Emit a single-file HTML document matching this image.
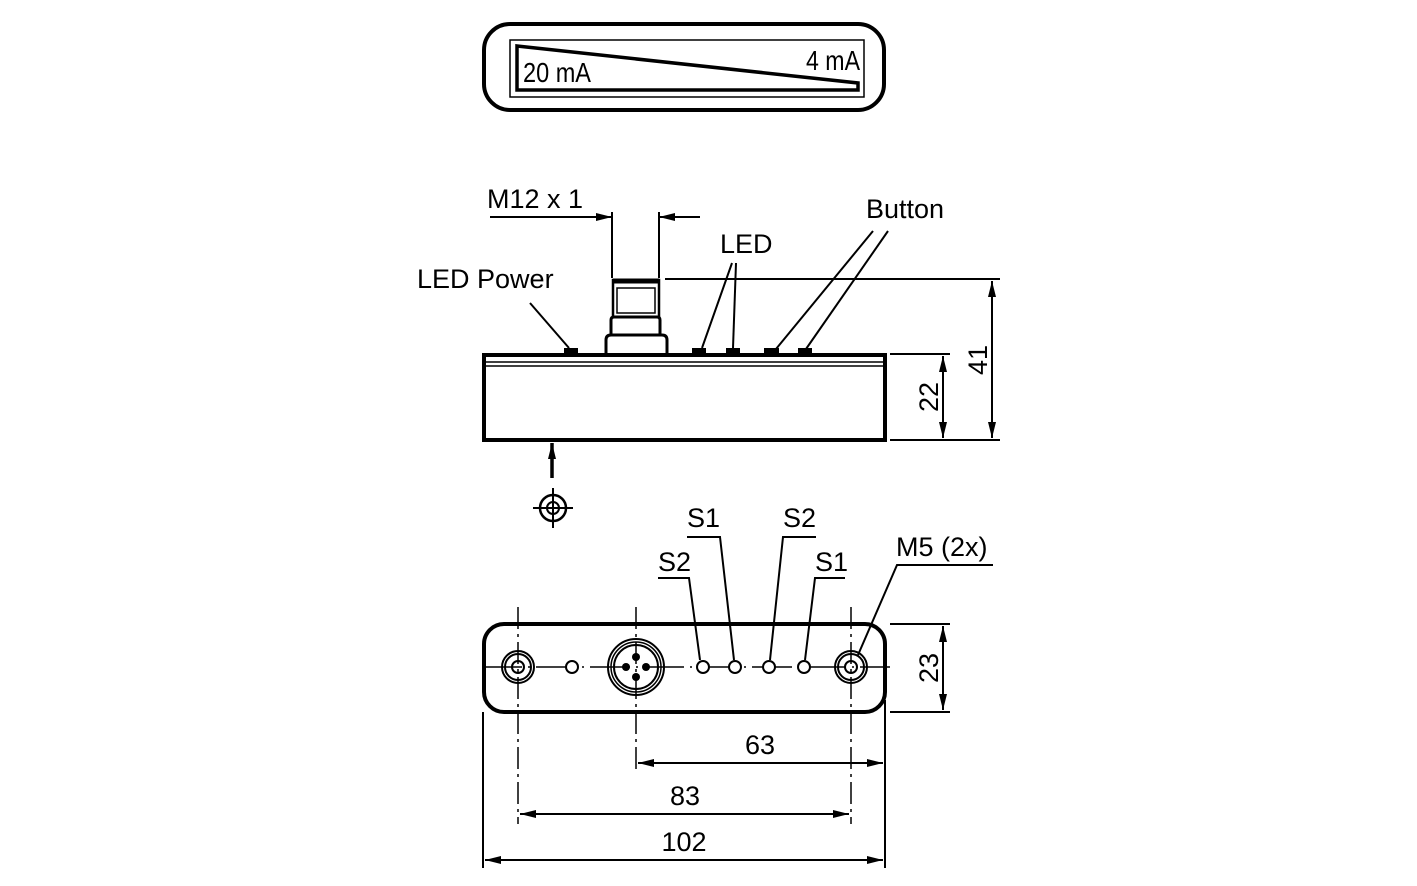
<!DOCTYPE html>
<html><head><meta charset="utf-8"><style>
html,body{margin:0;padding:0;background:#fff}
svg{display:block}
text{font-family:"Liberation Sans",sans-serif;fill:#000}
</style></head><body>
<svg width="1417" height="886" viewBox="0 0 1417 886" xmlns="http://www.w3.org/2000/svg">
<defs>
<marker id="b" viewBox="0 0 16 8" refX="16" refY="4" markerWidth="16" markerHeight="8" orient="auto-start-reverse" markerUnits="userSpaceOnUse"><path d="M0,0L16,4L0,8z"/></marker>
</defs>
<g fill="none" stroke="#000">
<rect x="484" y="24" width="400" height="86" rx="26" stroke-width="4"/>
<rect x="510" y="40" width="354" height="57" stroke-width="1.5"/>
<path d="M517,46 L858,83 L858,90 L517,90 Z" stroke-width="3.5"/>

<rect x="484" y="355" width="401" height="85" stroke-width="4"/>
<line x1="486" y1="362" x2="883" y2="362" stroke-width="1.5"/>
<line x1="486" y1="366" x2="883" y2="366" stroke-width="1.5"/>
<path d="M606,354 L606,340 Q606,335 611,335 L662,335 Q667,335 667,340 L667,354" stroke-width="3"/>
<path d="M611,335 L611,320 Q611,317 614,317 L657,317 Q660,317 660,320 L660,335" stroke-width="3"/>
<rect x="613" y="280" width="46" height="37" stroke-width="2.5"/>
<line x1="613" y1="281" x2="659" y2="281" stroke-width="5"/>
<rect x="617" y="288" width="38" height="25" stroke-width="1.5"/>
<g fill="#000" stroke="none">
<rect x="564" y="348" width="14" height="6"/><rect x="692" y="348" width="14" height="6"/><rect x="726" y="348" width="14" height="6"/><rect x="764" y="348" width="15" height="6"/><rect x="798" y="348" width="14" height="6"/>
</g>
<g stroke-width="2">
<line x1="612" y1="212" x2="612" y2="278"/><line x1="659" y1="212" x2="659" y2="278"/>
<line x1="490" y1="217" x2="612" y2="217" marker-end="url(#b)"/>
<line x1="700" y1="217" x2="659" y2="217" marker-end="url(#b)"/>
<line x1="665" y1="279" x2="1000" y2="279"/>
<line x1="890" y1="440" x2="1000" y2="440"/>
<line x1="890" y1="354" x2="950" y2="354"/>
<line x1="992" y1="281" x2="992" y2="438" marker-start="url(#b)" marker-end="url(#b)"/>
<line x1="943" y1="356" x2="943" y2="438" marker-start="url(#b)" marker-end="url(#b)"/>
<line x1="530" y1="303" x2="569" y2="348"/>
<line x1="732" y1="263" x2="702" y2="348"/>
<line x1="736" y1="263" x2="733" y2="348"/>
<line x1="873" y1="231" x2="776" y2="349"/>
<line x1="888" y1="231" x2="806" y2="349"/>
</g>
<line x1="552" y1="478" x2="552" y2="443" stroke-width="3.5" marker-end="url(#b)"/>
<circle cx="553" cy="508" r="13" stroke-width="2.5"/>
<circle cx="553" cy="508" r="6" stroke-width="2"/>
<line x1="533" y1="508" x2="573" y2="508" stroke-width="2"/>
<line x1="553" y1="488" x2="553" y2="528" stroke-width="2"/>

<rect x="484" y="624" width="401" height="88" rx="20" stroke-width="4"/>
<line x1="482" y1="667" x2="890" y2="667" stroke-width="1.5" stroke-dasharray="40,6,2,6"/>
<g stroke-width="2">
<circle cx="518" cy="667" r="16"/><circle cx="518" cy="667" r="13"/><circle cx="518" cy="667" r="6"/>
<circle cx="851" cy="667" r="16"/><circle cx="851" cy="667" r="13"/><circle cx="851" cy="667" r="6"/>
<circle cx="572" cy="667" r="6" fill="#fff"/>
<circle cx="636" cy="667" r="28"/><circle cx="636" cy="667" r="25" stroke-width="1.5"/><circle cx="636" cy="667" r="22"/>
<circle cx="703" cy="667" r="6" fill="#fff"/><circle cx="735" cy="667" r="6" fill="#fff"/><circle cx="769" cy="667" r="6" fill="#fff"/><circle cx="804" cy="667" r="6" fill="#fff"/>
</g>
<g fill="#000" stroke="none"><circle cx="626" cy="667" r="4"/><circle cx="646" cy="667" r="4"/><circle cx="636" cy="657" r="4"/><circle cx="636" cy="677" r="4"/></g>
<g stroke-width="1.5" stroke-dasharray="22,5,3,5">
<line x1="518" y1="607" x2="518" y2="824"/><line x1="636" y1="607" x2="636" y2="772"/><line x1="851" y1="607" x2="851" y2="824"/>
</g>
<g stroke-width="2">
<polyline points="658,578 689,578 700,660"/>
<polyline points="687,537 720,537 734,660"/>
<polyline points="816,537 783,537 770,660"/>
<polyline points="845,578 815,578 805,660"/>
<polyline points="993,565 897,565 858,655"/>
<line x1="890" y1="624" x2="950" y2="624"/><line x1="890" y1="712" x2="950" y2="712"/>
<line x1="943" y1="626" x2="943" y2="710" marker-start="url(#b)" marker-end="url(#b)"/>
<line x1="483" y1="712" x2="483" y2="868"/><line x1="885" y1="700" x2="885" y2="868"/>
<line x1="638" y1="763" x2="883" y2="763" marker-start="url(#b)" marker-end="url(#b)"/>
<line x1="520" y1="814" x2="849" y2="814" marker-start="url(#b)" marker-end="url(#b)"/>
<line x1="485" y1="860" x2="883" y2="860" marker-start="url(#b)" marker-end="url(#b)"/>
</g>
</g>
<g font-size="27">
<text x="523" y="82" font-size="28" textLength="68" lengthAdjust="spacingAndGlyphs">20 mA</text>
<text x="806" y="70" font-size="28" textLength="54" lengthAdjust="spacingAndGlyphs">4 mA</text>
<text x="487" y="208">M12 x 1</text>
<text x="866" y="218">Button</text>
<text x="720" y="253">LED</text>
<text x="417" y="288">LED Power</text>
<text transform="translate(987,360) rotate(-90)" text-anchor="middle">41</text>
<text transform="translate(938,397) rotate(-90)" text-anchor="middle">22</text>
<text transform="translate(938,668) rotate(-90)" text-anchor="middle">23</text>
<text x="687" y="527">S1</text>
<text x="783" y="527">S2</text>
<text x="658" y="571">S2</text>
<text x="815" y="571">S1</text>
<text x="896" y="556">M5 (2x)</text>
<text x="760" y="754" text-anchor="middle">63</text>
<text x="685" y="805" text-anchor="middle">83</text>
<text x="684" y="851" text-anchor="middle">102</text>
</g>
</svg>
</body></html>
